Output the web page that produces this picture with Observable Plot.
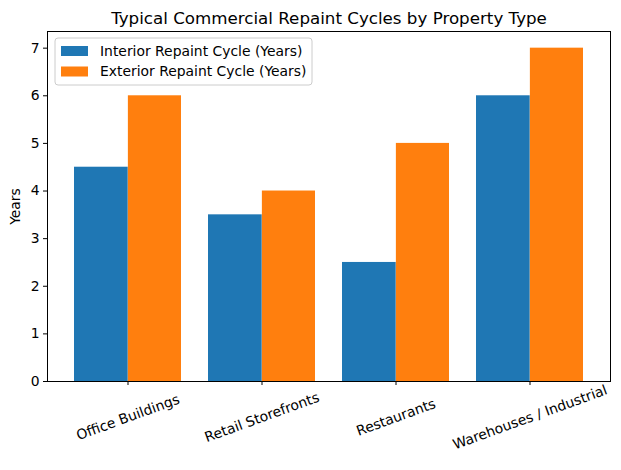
<!DOCTYPE html>
<html>
<head>
<meta charset="utf-8">
<script src="https://cdn.jsdelivr.net/npm/d3@7"></script>
<script src="https://cdn.jsdelivr.net/npm/@observablehq/plot@0.6"></script>
<style>
  html, body { margin: 0; padding: 0; background: #fff; }
  svg { font-family: "DejaVu Sans", sans-serif; }
</style>
</head>
<body>
<div id="chart"></div>
<script>
const title = "Typical Commercial Repaint Cycles by Property Type";
const yLabel = "Years";
const categories = ["Office Buildings", "Retail Storefronts", "Restaurants", "Warehouses / Industrial"];
const seriesNames = ["Interior Repaint Cycle (Years)", "Exterior Repaint Cycle (Years)"];
const interior = [4.5, 3.5, 2.5, 6];
const exterior = [6, 4, 5, 7];
const yTicks = [0, 1, 2, 3, 4, 5, 6, 7];
const colors = ["#1f77b4", "#ff7f0e"];

const W = 621, H = 470;
const mL = 47, mR = 11, mT = 31, mB = 89;
const paddingInner = 0.2, paddingOuter = 0.19;
const step = (W - mL - mR) / (categories.length - paddingInner + 2 * paddingOuter);
const half = step * (1 - paddingInner) / 2;

const interiorData = categories.map((c, i) => ({category: c, value: interior[i]}));
const exteriorData = categories.map((c, i) => ({category: c, value: exterior[i]}));

const fs = 13.9;

const chart = Plot.plot({
  width: W,
  height: H,
  marginLeft: mL,
  marginRight: mR,
  marginTop: mT,
  marginBottom: mB,
  style: {fontFamily: "DejaVu Sans, sans-serif", fontSize: fs + "px", color: "#000", background: "#fff"},
  x: {type: "band", domain: categories, paddingInner, paddingOuter, axis: null},
  y: {domain: [0, 7.35], axis: null},
  marks: [
    Plot.barY(interiorData, {x: "category", y: "value", fill: colors[0], insetLeft: 0, insetRight: half - 0.6}),
    Plot.barY(exteriorData, {x: "category", y: "value", fill: colors[1], insetLeft: half, insetRight: 0}),
    Plot.frame({stroke: "#000", strokeWidth: 1}),
    Plot.axisY({ticks: yTicks, tickSize: 4, tickPadding: 4, label: null, fontSize: fs, stroke: "#000"}),
    Plot.axisX({tickSize: 4, tickFormat: () => "", label: null, stroke: "#000"}),
    Plot.text(categories, {x: d => d, frameAnchor: "bottom", dy: 36, rotate: -20, textAnchor: "middle", lineAnchor: "middle", fontSize: fs, fill: "#000"}),
    Plot.text([yLabel], {frameAnchor: "left", dx: -32, rotate: -90, textAnchor: "middle", lineAnchor: "middle", fontSize: fs, fill: "#000"}),
    Plot.text([title], {frameAnchor: "top", dy: -13, textAnchor: "middle", lineAnchor: "middle", fontSize: 16.7, fill: "#000"})
  ]
});

document.getElementById("chart").appendChild(chart);

// Legend (matplotlib style, upper left inside axes)
const svg = d3.select(chart);
const lg = svg.append("g").attr("transform", `translate(55,38)`).attr("text-anchor", "start");
lg.append("rect")
  .attr("x", 0).attr("y", 0).attr("width", 257).attr("height", 47)
  .attr("rx", 3).attr("fill", "#fff").attr("fill-opacity", 0.8)
  .attr("stroke", "#cccccc").attr("stroke-width", 1);
seriesNames.forEach((name, i) => {
  const yy = 8 + i * 20.5;
  lg.append("rect").attr("x", 6).attr("y", yy).attr("width", 27).attr("height", 10).attr("fill", colors[i]);
  lg.append("text").attr("x", 45).attr("y", yy + 5).attr("dy", "0.35em")
    .attr("text-anchor", "start")
    .attr("font-size", fs).attr("fill", "#000").text(name);
});
</script>
</body>
</html>
